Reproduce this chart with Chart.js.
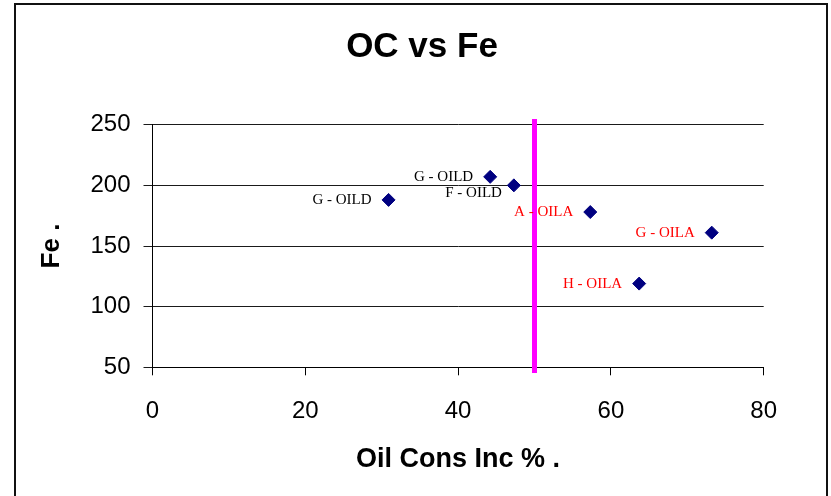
<!DOCTYPE html>
<html><head><meta charset="utf-8">
<script src="https://cdn.jsdelivr.net/npm/chart.js@4/dist/chart.umd.min.js"></script>
<style>html,body{margin:0;padding:0;background:#fff;}</style>
</head><body>
<canvas id="c" width="831" height="496"></canvas>
<script>
// ---- data ----
const pointNames = ["G - OILD", "G - OILD", "F - OILD", "A - OILA", "G - OILA", "H - OILA"];
const oilConsInc = [30.9, 44.2, 47.3, 57.3, 73.2, 63.7];
const feValues   = [188, 207, 200, 178, 161, 119];
const xTicks = [0, 20, 40, 60, 80];
const yTicks = [50, 100, 150, 200, 250];
const refLineX = 50;
const refLineY = [45.3, 254.7];

const SANS = "'Liberation Sans', Arial, sans-serif";
const SERIF = "'Liberation Serif', 'Times New Roman', serif";

const bgPlugin = {
  id: 'bg',
  beforeDraw(chart) {
    const c = chart.ctx;
    c.save(); c.fillStyle = '#fff'; c.fillRect(0, 0, chart.width, chart.height); c.restore();
  },
  afterDraw(chart) {
    const c = chart.ctx;
    c.save(); c.strokeStyle = '#111'; c.lineWidth = 2;
    c.strokeRect(15, 4, 812, 600); c.restore();
  }
};

const labelPlugin = {
  id: 'ptLabels',
  afterDatasetsDraw(chart, args, opts) {
    const meta = chart.getDatasetMeta(0);
    const c = chart.ctx;
    c.save();
    c.font = '15px ' + SERIF;
    c.textAlign = 'right';
    c.textBaseline = 'middle';
    meta.data.forEach((pt, i) => {
      const name = pointNames[i];
      c.fillStyle = name.endsWith('OILA') ? '#FF0000' : '#000000';
      const below = opts.belowIndices.includes(i);
      const dx = below ? 12 : 17;
      const dy = below ? 8 : 0;
      c.fillText(name, pt.x - dx, pt.y + dy);
    });
    c.restore();
  }
};

new Chart(document.getElementById('c'), {
  type: 'scatter',
  data: {
    datasets: [
      {
        label: 'Fe',
        data: oilConsInc.map((x, i) => ({ x, y: feValues[i] })),
        xAxisID: 'x', yAxisID: 'y',
        pointStyle: 'rectRot', pointRadius: 6.5, pointHoverRadius: 6.5,
        backgroundColor: '#000080', borderColor: '#000080', borderWidth: 1,
        order: 1
      },
      {
        label: 'ref',
        type: 'line',
        data: refLineY.map(y => ({ x: refLineX, y })),
        xAxisID: 'x', yAxisID: 'y',
        showLine: true, borderColor: '#FF00FF', borderWidth: 5,
        pointRadius: 0, clip: false, order: 2
      }
    ]
  },
  options: {
    responsive: false, animation: false,
    layout: { padding: { left: 13, right: 0, top: 0, bottom: 0 } },
    plugins: {
      legend: { display: false },
      tooltip: { enabled: false },
      ptLabels: { belowIndices: [2] },
      title: {
        display: true, text: 'OC vs Fe', color: '#000',
        font: { family: SANS, size: 35, weight: 'bold' },
        padding: { top: 26, bottom: 56.7 }
      }
    },
    scales: {
      x: {
        type: 'linear', position: 'bottom',
        min: xTicks[0], max: xTicks[xTicks.length - 1],
        afterBuildTicks(s) { s.ticks = xTicks.map(v => ({ value: v })); },
        ticks: { color: '#000', font: { family: SANS, size: 24 }, padding: 22, maxRotation: 0 },
        grid: { drawOnChartArea: false, drawTicks: true, tickLength: 8, color: '#000' },
        border: { color: '#000', width: 1 },
        title: { display: true, text: 'Oil Cons Inc % .', color: '#000',
          font: { family: SANS, size: 27, weight: 'bold' }, padding: { top: 0, bottom: 19.8 } },
        afterFit(s) { s.height = 128.7; }
      },
      y: {
        type: 'linear', position: 'left',
        min: yTicks[0], max: yTicks[yTicks.length - 1],
        afterBuildTicks(s) { s.ticks = yTicks.map(v => ({ value: v })); },
        ticks: { color: '#000', font: { family: SANS, size: 24 }, padding: 13 },
        grid: { color: '#1a1a1a', tickLength: 9 },
        border: { color: '#000', width: 1 },
        title: { display: true, text: 'Fe .', color: '#000',
          font: { family: SANS, size: 26, weight: 'bold' }, padding: { top: 23.4, bottom: 0 } },
        afterFit(s) { s.width = 139.5; }
      },
      y2: {
        type: 'linear', position: 'right', display: true,
        ticks: { display: false }, grid: { display: false }, border: { display: false },
        afterFit(s) { s.width = 67.3; }
      }
    }
  },
  plugins: [bgPlugin, labelPlugin]
});
</script>
</body></html>
